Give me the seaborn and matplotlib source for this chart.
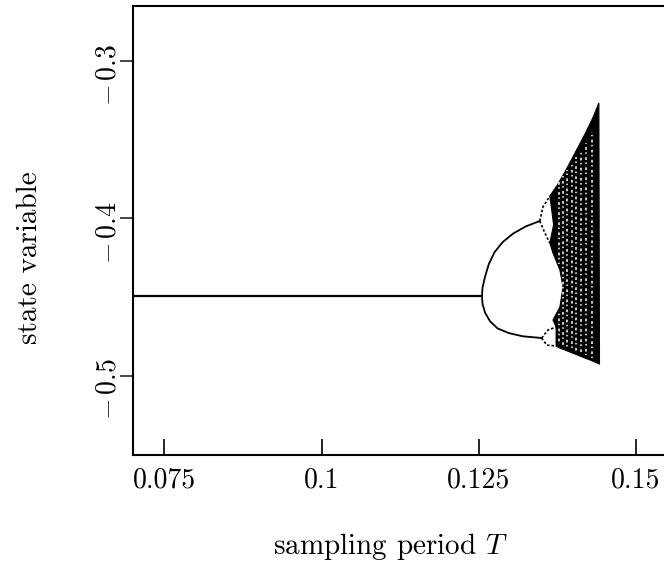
import matplotlib
matplotlib.use("Agg")
import matplotlib.pyplot as plt
import matplotlib.transforms as mtrans
import seaborn as sns
import pandas as pd

# ---------------- data ----------------
# stable fixed point
fixed_T = [0.0700, 0.1255]
fixed_v = [-0.4494, -0.4494]

# period-2 branches
upper2_T = [0.1255, 0.1256, 0.1260, 0.1266, 0.1275, 0.1288, 0.1305, 0.1325, 0.1347]
upper2_v = [-0.4494, -0.4440, -0.4370, -0.4290, -0.4215, -0.4150, -0.4095, -0.4050, -0.4016]
lower2_T = [0.1255, 0.1256, 0.1260, 0.1268, 0.1280, 0.1298, 0.1320, 0.1350]
lower2_v = [-0.4494, -0.4545, -0.4600, -0.4655, -0.4700, -0.4730, -0.4750, -0.4761]

# period-4 bubbles
bub_up_a_T = [0.1347, 0.1352, 0.1363]
bub_up_a_v = [-0.4016, -0.3927, -0.3857]
bub_up_b_T = [0.1347, 0.1355, 0.1363]
bub_up_b_v = [-0.4016, -0.4092, -0.4156]
bub_lo_a_T = [0.1350, 0.1360, 0.1373]
bub_lo_a_v = [-0.4761, -0.4710, -0.4691]
bub_lo_b_T = [0.1350, 0.1358, 0.1373]
bub_lo_b_v = [-0.4761, -0.4806, -0.4812]

# chaotic band outline
chaos_T = [0.1441, 0.1442, 0.1427, 0.1411, 0.1395, 0.1379, 0.1373, 0.1373,
           0.1368, 0.1379, 0.1384, 0.1379, 0.1368, 0.1363, 0.1369, 0.1366,
           0.1363, 0.1374, 0.1387, 0.1403, 0.1419, 0.1432]
chaos_v = [-0.3264, -0.4927, -0.4901, -0.4876, -0.4850, -0.4825, -0.4812, -0.4691,
           -0.4646, -0.4564, -0.4436, -0.4328, -0.4220, -0.4156, -0.4041, -0.3946,
           -0.3857, -0.3793, -0.3704, -0.3583, -0.3462, -0.3354]

# light streaks inside the chaotic band
streak_T = [0.1378, 0.1378, 0.1384, 0.1391, 0.1398, 0.1405, 0.1412, 0.1420, 0.1430]
streak_top = [-0.3770, -0.4590, -0.3730, -0.3690, -0.3650, -0.3610, -0.3570, -0.3520, -0.3450]
streak_bot = [-0.4290, -0.4800, -0.4810, -0.4830, -0.4840, -0.4850, -0.4860, -0.4870, -0.4890]

xticks = [0.075, 0.1, 0.125, 0.15]
xtick_labels = ["0.075", "0.1", "0.125", "0.15"]
yticks = [-0.5, -0.4, -0.3]
ytick_labels = [r"$-\,0.5$", r"$-\,0.4$", r"$-\,0.3$"]

# ---------------- figure ----------------
sns.set_theme(style="white")
plt.rcParams["font.family"] = "serif"
plt.rcParams["font.serif"] = ["cmr10", "DejaVu Serif"]
plt.rcParams["mathtext.fontset"] = "cm"
plt.rcParams["axes.formatter.use_mathtext"] = True

W, H = 664, 580
fig = plt.figure(figsize=(W / 100, H / 100), dpi=100)
fig.patch.set_facecolor("white")
ax = fig.add_axes([133 / W, (H - 454.7) / H, (667.4 - 133) / W, (454.7 - 6) / H])
ax.set_facecolor("white")

def line(T, v, lw=1.4, ls="-"):
    df = pd.DataFrame({"T": T, "v": v})
    sns.lineplot(data=df, x="T", y="v", ax=ax, color="black", lw=lw,
                 linestyle=ls, sort=False, estimator=None)

line(fixed_T, fixed_v, lw=1.6)
line(upper2_T, upper2_v, lw=1.3)
line(lower2_T, lower2_v, lw=1.3)
for a, b in [(bub_up_a_T, bub_up_a_v), (bub_up_b_T, bub_up_b_v),
             (bub_lo_a_T, bub_lo_a_v), (bub_lo_b_T, bub_lo_b_v)]:
    line(a, b, lw=1.2, ls=(0, (1.5, 1.2)))

ax.fill(chaos_T, chaos_v, color="black", lw=0.8, ec="black", zorder=3)
for i, (t, top, bot) in enumerate(zip(streak_T, streak_top, streak_bot)):
    ax.plot([t, t], [top, bot], color="white", lw=1.1,
            linestyle=((i * 1.7) % 4, (1.8, 1.6, 1.0, 2.2)), zorder=4)

ax.set_xlim(0.07, 0.155)
ax.set_ylim(-0.5504, -0.2647)
ax.set_xlabel("")
ax.set_ylabel("")

for s in ["top", "left", "bottom", "right"]:
    ax.spines[s].set_color("black")
    ax.spines[s].set_linewidth(1.5)

ax.set_xticks(xticks)
ax.set_xticklabels(xtick_labels)
ax.tick_params(axis="x", direction="in", length=11.5, width=1.2,
               labelsize=20, pad=9, colors="black", bottom=True)
ax.set_yticks(yticks)
ax.set_yticklabels([])
ax.tick_params(axis="y", direction="out", length=9.5, width=1.2, left=True)

blend = mtrans.blended_transform_factory(ax.transAxes, ax.transData)
shift = mtrans.ScaledTranslation(0, -0.14, fig.dpi_scale_trans)
for v, lab in zip(yticks, ytick_labels):
    ax.text((108 - 133) / 534.4, v, lab, rotation=90, ha="center", va="center",
            fontsize=20, transform=blend + shift, color="black")

fig.text(30 / W, 1 - 258 / H, "state variable", rotation=90, ha="center",
         va="center", fontsize=21, color="black")
fig.text(390 / W, 1 - 546 / H, "sampling period $T$", ha="center", va="center",
         fontsize=21, color="black")

fig.savefig("out.png", dpi=100)
